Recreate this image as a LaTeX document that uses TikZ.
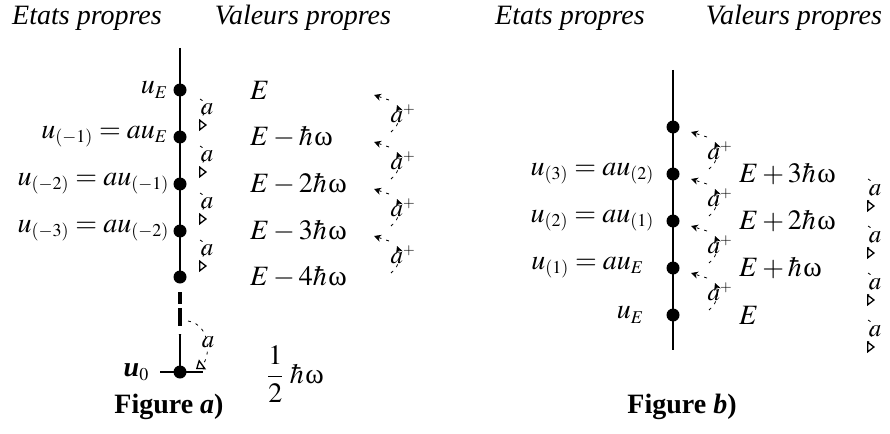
\documentclass[tikz,border=0pt]{standalone}
\usepackage{mathptmx}
\usepackage[no-math]{fontspec}
\setmainfont{Liberation Serif}
\usetikzlibrary{arrows.meta}
\DeclareMathSizes{28}{28}{18}{13}
\DeclareMathSizes{25}{25}{15}{11}
\medmuskip=2.5mu\relax
\thickmuskip=4mu\relax
\newcommand{\om}{\mkern1mu\mbox{ω}}
\begin{document}
\begin{tikzpicture}[x=1pt,y=-1pt,
  axis/.style={line width=2.2pt},
  dashaxis/.style={line width=3.5pt, dash pattern=on 12pt off 4pt on 18pt off 8pt},
  dot/.style={circle, fill, inner sep=0pt, minimum size=13pt},
  title/.style={font=\fontsize{28}{30}\selectfont\itshape, anchor=base},
  lab/.style={font=\fontsize{28}{30}\selectfont, inner sep=1pt},
  small/.style={font=\fontsize{25}{26}\selectfont, inner sep=0pt},
  figcap/.style={font=\fontsize{28}{30}\selectfont\bfseries, anchor=base},
  lowarr/.style={dash pattern=on 3pt off 5pt, line width=0.8pt, -{Triangle[open,length=8pt,width=12pt,line width=1.3pt]}},
  raisarr/.style={dash pattern=on 3pt off 5pt, line width=0.8pt, -{Stealth[length=7pt,width=7pt]}}]
\useasboundingbox (0,0) rectangle (890,433);
% ---------- titles
\node[title] (ta1) at (87,25) {Etats propres};
\node[title] (ta2) at (303,25) {Valeurs propres};
\node[title] (tb1) at (570,25) {Etats propres};
\node[title] (tb2) at (794,25) {Valeurs propres};
% ---------- figure a
\coordinate (atop) at (180,48);
\node[dot] (a0) at (180,90) {};
\node[dot] (a1) at (180,137) {};
\node[dot] (a2) at (180,184) {};
\node[dot] (a3) at (180,231) {};
\node[dot] (a4) at (180,277) {};
\node[dot] (az) at (180,372) {};
\coordinate (adasht) at (180,292);
\coordinate (adash) at (180,334);
\coordinate (hl) at (160,372);
\coordinate (hr) at (203,372);
\draw[axis] (atop) -- (a4.center);
\draw[dashaxis] (adasht) -- (adash);
\draw[axis] (adash) -- (az.center);
\draw[axis] (hl) -- (hr);
\node[lab, anchor=east] (ua0) at (169,90) {$u_E$};
\node[lab, anchor=east] (ua1) at (169,137) {$u_{(-1)} = au_E$};
\node[lab, anchor=east] (ua2) at (170,184) {$u_{(-2)} = au_{(-1)}$};
\node[lab, anchor=east] (ua3) at (170,231) {$u_{(-3)} = au_{(-2)}$};
\node[lab, anchor=east] (uaz) at (150,372) {\textbf{\textit{u}}$_0$};
\node[lab, anchor=west] (ea0) at (249,90) {$E$};
\node[lab, anchor=west] (ea1) at (249,137) {$E-\hbar\om$};
\node[lab, anchor=west] (ea2) at (249,184) {$E-2\hbar\om$};
\node[lab, anchor=west] (ea3) at (249,231) {$E-3\hbar\om$};
\node[lab, anchor=west] (ea4) at (249,277) {$E-4\hbar\om$};
\node[lab, anchor=west] (eaz) at (266,374) {$\displaystyle\frac{1}{2}\;\hbar\om$};
\foreach \Y [count=\i] in {90,137,184,231} {
  \coordinate (las\i) at (200,\Y+9);
  \coordinate (lae\i) at (207,\Y+35);
  \draw[lowarr] (las\i) .. controls +(14,7) and +(-12,0) .. (lae\i);
  \node[small] (lal\i) at (207,\Y+19) {$a$};
}
\coordinate (lzs) at (188,321);
\coordinate (lze) at (196,369);
\draw[lowarr] (lzs) .. controls +(24,4) and +(14,-10) .. (lze);
\node[small] (lzl) at (208,342) {$a$};
\foreach \Y [count=\i] in {90,137,184,231} {
  \coordinate (ras\i) at (391,\Y+42);
  \coordinate (rae\i) at (397,\Y+15);
  \coordinate (rbs\i) at (389,\Y+10);
  \coordinate (rbe\i) at (374,\Y+5);
  \draw[raisarr] (ras\i) .. controls +(10,-8) and +(3,8) .. (rae\i);
  \draw[raisarr] (rbs\i) -- (rbe\i);
  \node[small] (ral\i) at (403,\Y+24) {$a^{+}$};
}
\node[figcap] (capa) at (169,413) {Figure \textit{a})};
% ---------- figure b
\coordinate (btop) at (673,70);
\coordinate (bbot) at (673,350);
\node[dot] (b3) at (673,127) {};
\node[dot] (b2) at (673,174) {};
\node[dot] (b1) at (673,221) {};
\node[dot] (b0) at (673,268) {};
\node[dot] (bE) at (673,315) {};
\draw[axis] (btop) -- (bbot);
\node[lab, anchor=east] (ub3) at (655,174) {$u_{(3)} = au_{(2)}$};
\node[lab, anchor=east] (ub2) at (655,221) {$u_{(2)} = au_{(1)}$};
\node[lab, anchor=east] (ub1) at (645,268) {$u_{(1)} = au_E$};
\node[lab, anchor=east] (ubE) at (645,315) {$u_E$};
\node[lab, anchor=west] (eb3) at (738,174) {$E+3\hbar\om$};
\node[lab, anchor=west] (eb2) at (738,221) {$E+2\hbar\om$};
\node[lab, anchor=west] (eb1) at (738,268) {$E+\hbar\om$};
\node[lab, anchor=west] (ebE) at (738,315) {$E$};
\foreach \Y [count=\i] in {127,174,221,268} {
  \coordinate (rcs\i) at (709,\Y+42);
  \coordinate (rce\i) at (715,\Y+15);
  \coordinate (rds\i) at (707,\Y+10);
  \coordinate (rde\i) at (691,\Y+5);
  \draw[raisarr] (rcs\i) .. controls +(10,-8) and +(3,8) .. (rce\i);
  \draw[raisarr] (rds\i) -- (rde\i);
  \node[small] (rbl\i) at (720,\Y+24) {$a^{+}$};
}
\foreach \Y [count=\i] in {170,217,264,311} {
  \coordinate (lbs\i) at (868,\Y+9);
  \coordinate (lbe\i) at (875,\Y+36);
  \draw[lowarr] (lbs\i) .. controls +(14,7) and +(-12,0) .. (lbe\i);
  \node[small] (lbl\i) at (875,\Y+20) {$a$};
}
\node[figcap] (capb) at (682,413) {Figure \textit{b})};
\end{tikzpicture}
\end{document}
